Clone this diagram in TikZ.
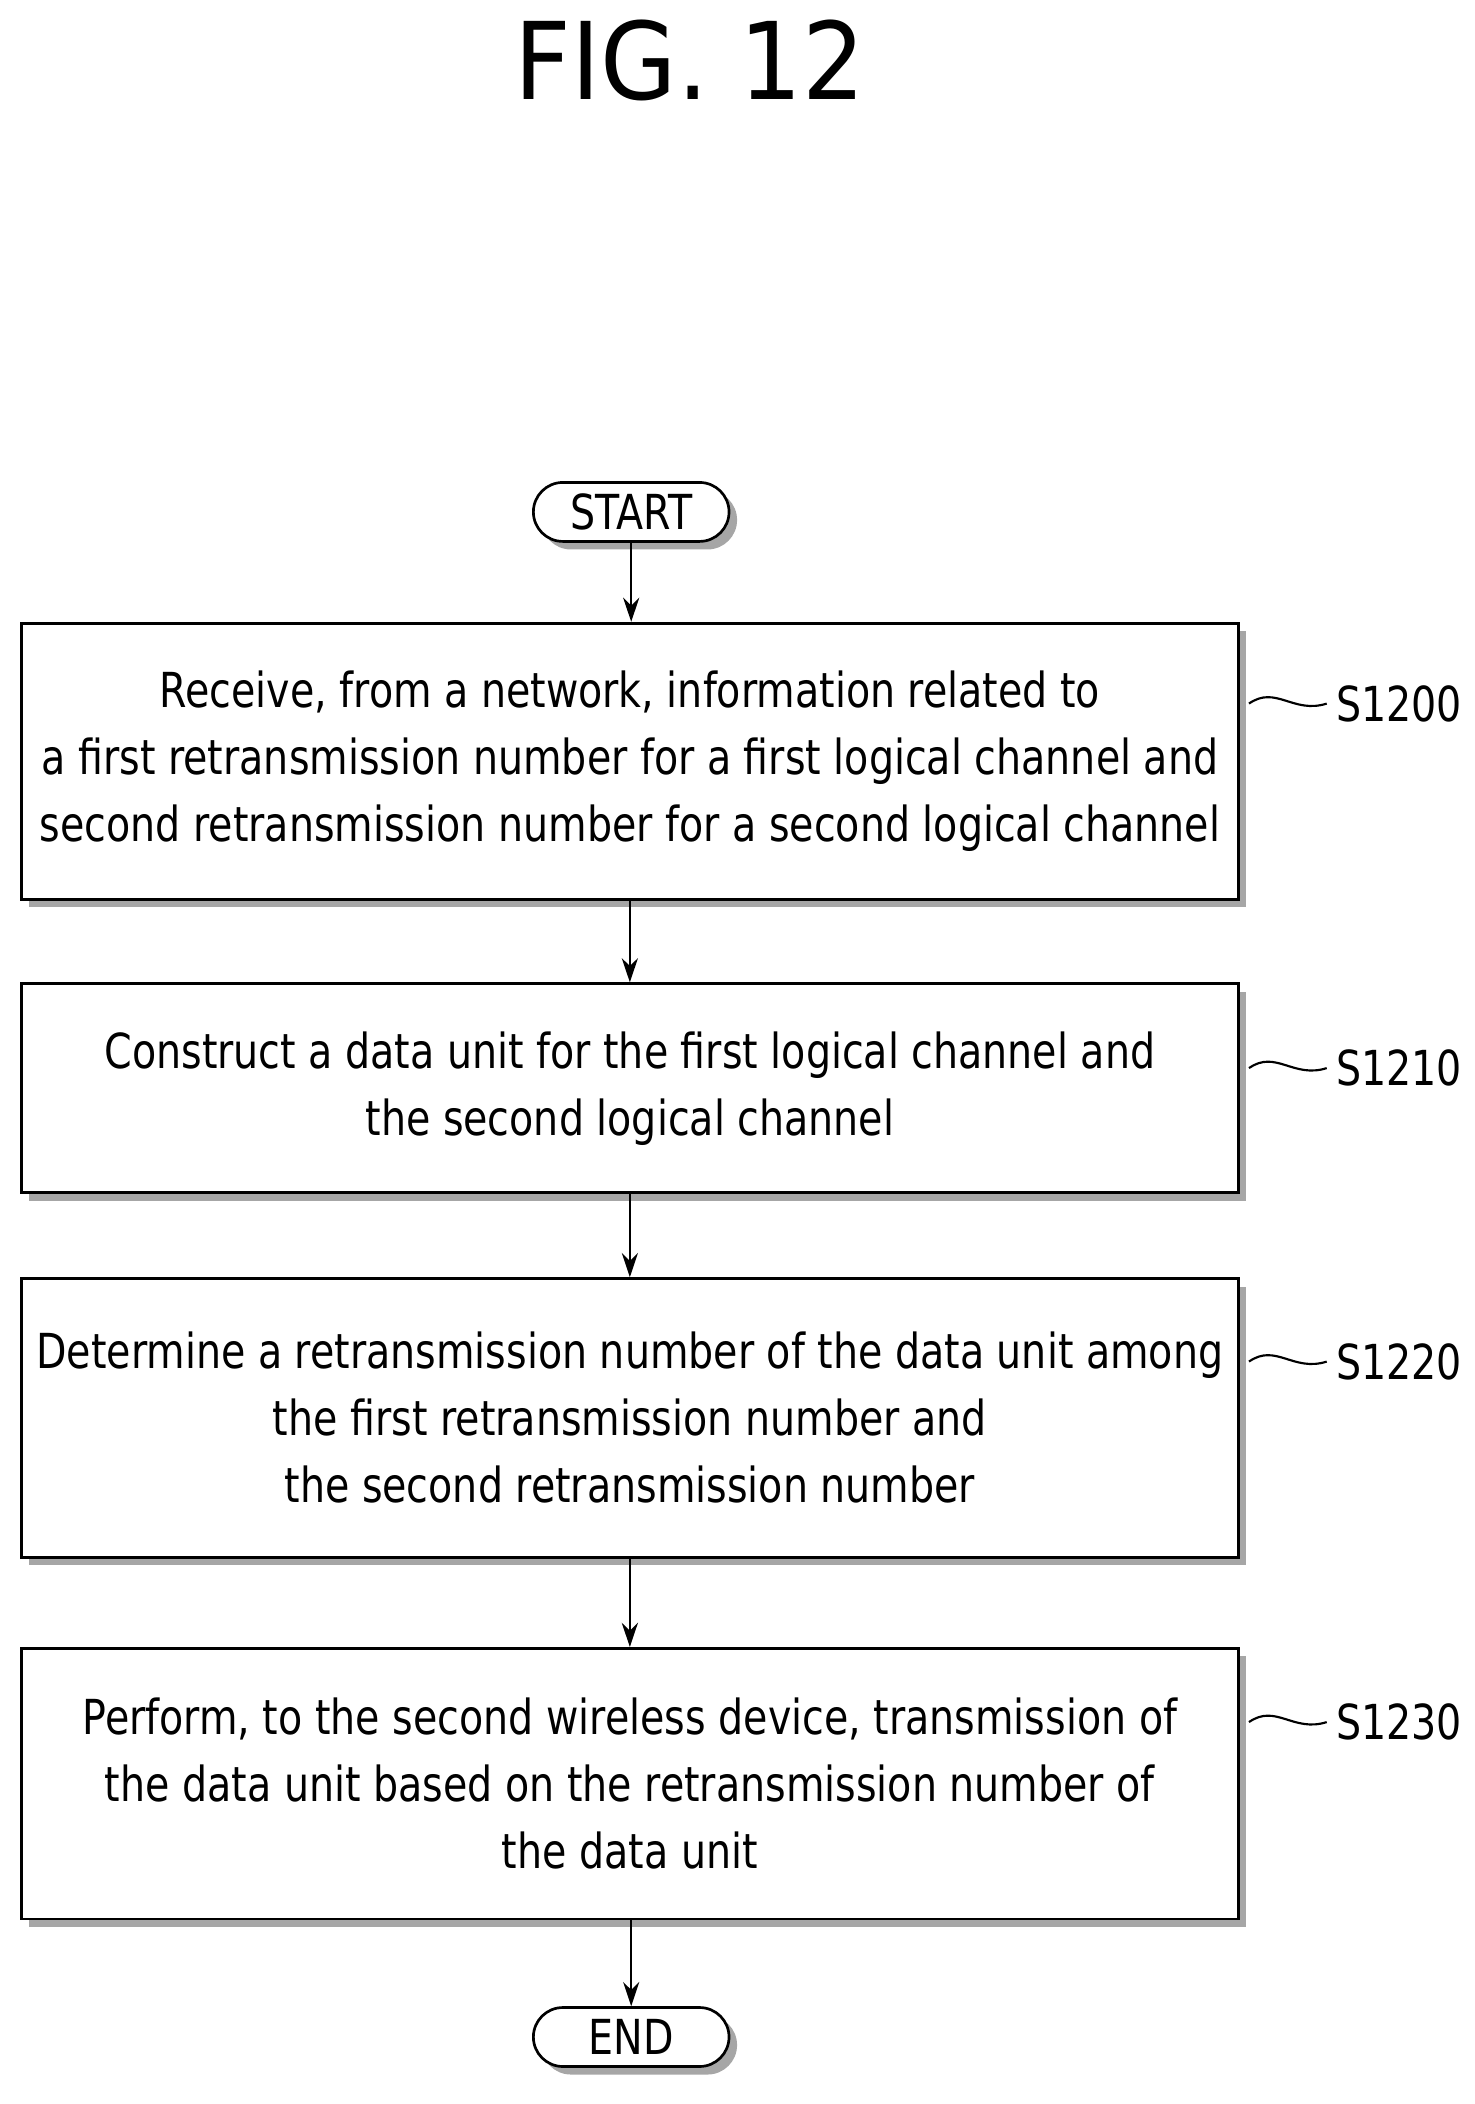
\documentclass[tikz,border=0pt]{standalone}
\usepackage{fontspec}
\setmainfont{DejaVu Sans}[FakeStretch=0.82]
\newfontfamily\titlefont{DejaVu Sans}[FakeStretch=0.92]
\usetikzlibrary{shadows,arrows.meta}
\begin{document}
\begin{tikzpicture}[x=0.5pt,y=-0.5pt,
  box/.style={draw,line width=1pt,fill=white,minimum width=454pt,align=center,font=\fontsize{18}{25}\selectfont,
    general shadow={fill=gray!70,shadow xshift=3pt,shadow yshift=-3pt}},
  term/.style={draw,line width=1pt,fill=white,rounded corners=11pt,minimum width=73pt,minimum height=22pt,font=\fontsize{18}{22}\selectfont,
    general shadow={fill=gray!70,shadow xshift=3pt,shadow yshift=-3pt}},
  arr/.style={-{Stealth[length=9pt,width=6pt]},line width=0.9pt},
  lab/.style={font=\fontsize{18}{22}\selectfont,anchor=west}]
\useasboundingbox (0,0) rectangle (1100,1570);
\node[font=\titlefont\fontsize{40}{44}\selectfont] (title) at (515,45) {FIG. 12};
\node[term] (start) at (471,382) {START};
\node[box,minimum height=103pt] (b1) at (470,568) {Receive, from a network, information related to\\a first retransmission number for a first logical channel and\\second retransmission number for a second logical channel};
\node[box,minimum height=78pt] (b2) at (470,812) {Construct a data unit for the first logical channel and\\the second logical channel};
\node[box,minimum height=104pt] (b3) at (470,1058) {Determine a retransmission number of the data unit among\\the first retransmission number and\\the second retransmission number};
\node[box,minimum height=101pt] (b4) at (470,1331) {Perform, to the second wireless device, transmission of\\the data unit based on the retransmission number of\\the data unit};
\node[term] (end) at (471,1520) {END};
\draw[arr] (start) -- (start|-b1.north);
\draw[arr] (b1) -- (b2);
\draw[arr] (b2) -- (b3);
\draw[arr] (b3) -- (b4);
\draw[arr] (b4.south-|end) -- (end);
\foreach \b/\t/\y in {b1/S1200/525,b2/S1210/797,b3/S1220/1016,b4/S1230/1285}{
  \node[lab] (l\b) at (990,\y) {\t};
  \draw[line width=0.8pt] (932,\y) .. controls (952,\y-14) and (965,\y+8) .. (l\b.west);
}
\end{tikzpicture}
\end{document}
